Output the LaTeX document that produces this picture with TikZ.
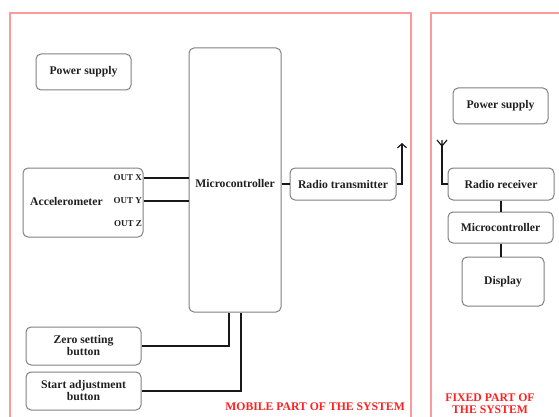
\documentclass[tikz,border=0pt]{standalone}
\usepackage{fontspec}
\setmainfont{Liberation Serif}
\usetikzlibrary{arrows.meta}
\definecolor{framered}{HTML}{FF9A9A}
\definecolor{labelred}{HTML}{FF2020}
\definecolor{boxgray}{HTML}{808080}
\definecolor{txt}{HTML}{202020}
\begin{document}
\begin{tikzpicture}[x=1pt,y=-1pt,
  font=\fontsize{11.7}{12}\selectfont\bfseries,
  blk/.style={draw=boxgray, line width=1pt, rounded corners=5pt, inner sep=0pt, text=txt, align=center},
  outlbl/.style={text=txt, inner sep=0pt, anchor=east, font=\fontsize{9}{10}\selectfont\bfseries},
  wire/.style={draw=black!90, line width=2pt},
  frame/.style={draw=framered, line width=1.6pt},
  redlbl/.style={text=labelred, inner sep=0pt, align=center}]
\useasboundingbox (0,0) rectangle (559,417);
% frames
\draw[frame] (10,417) -- (10,13) -- (411,13) -- (411,417);
\draw[frame] (431,417) -- (431,13) -- (559,13);
% mobile part
\node[blk, minimum width=95pt, minimum height=36pt] (ps1) at (83.5,72) {Power supply};
\node[blk, minimum width=92pt, minimum height=264pt] (mc) at (235,180) {};
\node[text=txt, inner sep=0pt] (mclbl) at (235,183) {Microcontroller};
\node[blk, minimum width=120pt, minimum height=69pt] (acc) at (83,202.5) {};
\node[text=txt, inner sep=0pt, anchor=west] (acclbl) at (30,201) {Accelerometer};
\node[outlbl] (outx) at (142,178) {OUT X};
\node[outlbl] (outy) at (142,201) {OUT Y};
\node[outlbl] (outz) at (142,224) {OUT Z};
\node[blk, minimum width=106pt, minimum height=32pt] (rt) at (343,184) {Radio transmitter};
\node[blk, minimum width=115pt, minimum height=38pt] (zero) at (83.5,346) {Zero setting\\button};
\node[blk, minimum width=115pt, minimum height=38pt] (start) at (83.5,391) {Start adjustment\\button};
% fixed part
\node[blk, minimum width=95pt, minimum height=36pt] (ps2) at (500.5,106) {Power supply};
\node[blk, minimum width=106pt, minimum height=32pt] (rr) at (501,184) {Radio receiver};
\node[blk, minimum width=105pt, minimum height=31pt] (mc2) at (500.5,227.5) {Microcontroller};
\node[blk, minimum width=82pt, minimum height=49pt] (disp) at (503,281.5) {Display};
% antennas
\coordinate (txant) at (402,143);
\coordinate (rxant) at (442,146);
% connectors
\draw[wire] (acc.east |- outx) -- (mc.west |- outx);
\draw[wire] (acc.east |- outy) -- (mc.west |- outy);
\draw[wire] (mc.east |- rt.west) -- (rt.west);
\draw[wire, -{Straight Barb[length=4pt,width=9pt,line width=1.2pt]}] (rt.east) -| (txant);
\draw[wire] (rr.west) -| (rxant);
\draw[line width=1.2pt, black!90] (rxant) -- ++(0,-6) (rxant) -- ++(-5,-6) (rxant) -- ++(5,-6);
\draw[wire] (rr.south) -- (rr.south |- mc2.north);
\draw[wire] (mc2.south) -- (mc2.south |- disp.north);
\draw[wire] (zero.east) -| ([xshift=-6pt]mc.south);
\draw[wire] (start.east) -| ([xshift=6pt]mc.south);
% labels
\node[redlbl, anchor=east] (mobile) at (405,407) {MOBILE PART OF THE SYSTEM};
\node[redlbl] (fixed) at (490,404) {FIXED PART OF\\THE SYSTEM};
\end{tikzpicture}
\end{document}
